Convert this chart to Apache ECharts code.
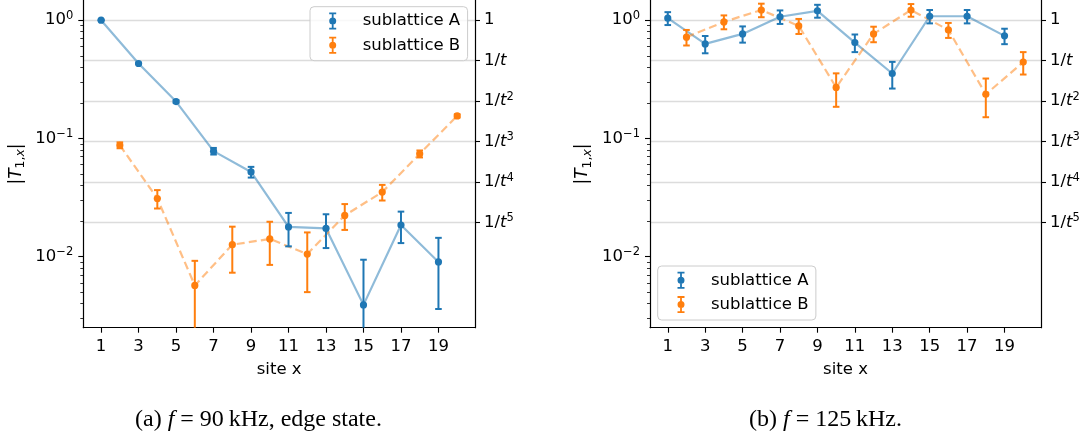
<!DOCTYPE html>
<html>
<head>
<meta charset="utf-8">
<script src="https://cdn.jsdelivr.net/npm/echarts@6/dist/echarts.min.js"></script>
<style>
  html, body { margin: 0; padding: 0; background: #ffffff; }
  #chart { width: 1090px; height: 439px; }
</style>
</head>
<body>
<div id="chart"></div>
<script>
// Lattice sites of the two sublattices
const sitesA = [1, 3, 5, 7, 9, 11, 13, 15, 17, 19];
const sitesB = [2, 4, 6, 8, 10, 12, 14, 16, 18, 20];

// (a) f = 90 kHz, edge state: |T_{1,x}| and its uncertainty
const edgeA    = [1.0, 0.43, 0.205, 0.078, 0.052, 0.0178, 0.0173, 0.0039, 0.0185, 0.009];
const edgeAErr = [0.0055, 0.0055, 0.0055, 0.005, 0.0054, 0.0056, 0.0055, 0.0055, 0.0055, 0.0054];
const edgeB    = [0.0875, 0.031, 0.0057, 0.0126, 0.0141, 0.0105, 0.0223, 0.0351, 0.074, 0.155];
const edgeBErr = [0.005, 0.0055, 0.0035, 0.0053, 0.0056, 0.0055, 0.0055, 0.0053, 0.005, 0.005];

// (b) f = 125 kHz
const bulkA    = [1.04, 0.63, 0.766, 1.07, 1.2, 0.647, 0.354, 1.08, 1.08, 0.737];
const bulkAErr = [0.13, 0.105, 0.12, 0.14, 0.15, 0.11, 0.09, 0.14, 0.14, 0.11];
const bulkB    = [0.719, 0.968, 1.22, 0.895, 0.27, 0.766, 1.22, 0.828, 0.236, 0.442];
const bulkBErr = [0.108, 0.13, 0.16, 0.13, 0.085, 0.115, 0.15, 0.12, 0.085, 0.095];

// Tick positions
const xTicks = [1, 3, 5, 7, 9, 11, 13, 15, 17, 19];
const decadeExponents = [0, -1, -2];
const hoppingPowers = [0, 1, 2, 3, 4, 5];
const T_HOP = 2.2;            // hopping ratio t used on the right-hand scale

const captions = [
  { tag: '(a) ', freq: ' = 90\u2009kHz, edge state.' },
  { tag: '(b) ', freq: ' = 125\u2009kHz.' }
];

const Y_MIN = 0.0025, Y_MAX = 1.5;
const X_MIN = 0.05, X_MAX = 20.95;
const LOG_MIN = Math.log10(Y_MIN), LOG_MAX = Math.log10(Y_MAX);

const BLUE = '#1f77b4', ORANGE = '#ff7f0e';
const FONT = 'DejaVu Sans';
const FS = 16.5;

const decadeTickVals = decadeExponents.slice();
const minorTickVals = [];
for (let k = -3; k <= 0; k++) {
  for (let m = 2; m <= 9; m++) {
    const v = Math.log10(m) + k;
    if (v >= LOG_MIN && v <= LOG_MAX) minorTickVals.push(v);
  }
}
const hopTickVals = hoppingPowers.map(p => -p * Math.log10(T_HOP));

const labelRich = {
  n: { fontFamily: FONT, fontSize: FS, color: '#000', lineHeight: 21 },
  i: { fontFamily: FONT, fontSize: FS, color: '#000', lineHeight: 21, fontStyle: 'italic' },
  s: { fontFamily: FONT, fontSize: 11.5, color: '#000', lineHeight: 11.5, verticalAlign: 'top' }
};

const grids = [
  { left: 83.3, top: -0.6, width: 391.7, height: 328.3 },
  { left: 650, top: -0.6, width: 391, height: 328.3 }
];

const xAxes = [], yAxes = [];
grids.forEach((g, gi) => {
  xAxes.push({
    type: 'value', gridIndex: gi, min: X_MIN, max: X_MAX,
    axisLine: { show: true, onZero: false, lineStyle: { color: '#000', width: 1.2 } },
    axisTick: { show: true, length: 5, customValues: xTicks, lineStyle: { color: '#000', width: 1.1 } },
    axisLabel: { customValues: xTicks, margin: 11, color: '#000', fontFamily: FONT, fontSize: FS },
    splitLine: { show: false },
    name: 'site x', nameLocation: 'middle', nameGap: 34,
    nameTextStyle: { color: '#000', fontFamily: FONT, fontSize: FS }
  });
  // data scale (logarithmic)
  yAxes.push({
    type: 'log', logBase: 10, gridIndex: gi, min: Y_MIN, max: Y_MAX, show: false,
    axisLine: { onZero: false }
  });
  // decade ticks and labels
  yAxes.push({
    type: 'value', gridIndex: gi, position: 'left', min: LOG_MIN, max: LOG_MAX,
    axisLine: { show: true, onZero: false, lineStyle: { color: '#000', width: 1.2 } },
    axisTick: { show: true, length: 5, customValues: decadeTickVals, lineStyle: { color: '#000', width: 1.1 } },
    axisLabel: {
      customValues: decadeTickVals, margin: 10,
      formatter: v => {
        const k = Math.round(v);
        return '{n|10}{s|' + (k < 0 ? '\u2212' + (-k) : String(k)) + '}';
      },
      rich: labelRich
    },
    splitLine: { show: false }
  });
  // minor ticks
  yAxes.push({
    type: 'value', gridIndex: gi, position: 'left', min: LOG_MIN, max: LOG_MAX,
    axisLine: { show: false, onZero: false },
    axisTick: { show: true, length: 3, customValues: minorTickVals, lineStyle: { color: '#000', width: 0.8 } },
    axisLabel: { show: false },
    splitLine: { show: false }
  });
  // powers of 1/t on the right, with the grid lines
  yAxes.push({
    type: 'value', gridIndex: gi, position: 'right', min: LOG_MIN, max: LOG_MAX,
    axisLine: { show: true, onZero: false, lineStyle: { color: '#000', width: 1.2 } },
    axisTick: { show: true, length: 5, customValues: hopTickVals, lineStyle: { color: '#000', width: 1.1 } },
    axisLabel: {
      customValues: hopTickVals, margin: 9,
      formatter: v => {
        const k = Math.round(-v / Math.log10(T_HOP));
        if (k === 0) return '{n|1}';
        if (k === 1) return '{n|1/}{i|t}';
        return '{n|1/}{i|t}{s|' + k + '}';
      },
      rich: labelRich
    },
    splitLine: { show: true, lineStyle: { color: '#dcdcdc', width: 1.3 } }
  });
});

function errorBarRenderer(color) {
  return function (params, api) {
    const x = api.value(0), y = api.value(1), e = api.value(2);
    const hiVal = y + e, loVal = y - e;
    const top = api.coord([x, Math.min(hiVal, Y_MAX)]);
    const bot = api.coord([x, Math.max(loVal, Y_MIN)]);
    const mid = api.coord([x, y]);
    const cap = 3.3, lw = 2;
    const children = [
      { type: 'line', shape: { x1: top[0], y1: top[1], x2: bot[0], y2: bot[1] },
        style: { stroke: color, lineWidth: lw } }
    ];
    if (hiVal <= Y_MAX) children.push({ type: 'line',
      shape: { x1: top[0] - cap, y1: top[1], x2: top[0] + cap, y2: top[1] },
      style: { stroke: color, lineWidth: lw } });
    if (loVal >= Y_MIN) children.push({ type: 'line',
      shape: { x1: bot[0] - cap, y1: bot[1], x2: bot[0] + cap, y2: bot[1] },
      style: { stroke: color, lineWidth: lw } });
    children.push({ type: 'circle', shape: { cx: mid[0], cy: mid[1], r: 3.6 }, style: { fill: color } });
    return { type: 'group', children };
  };
}

const panels = [
  { a: edgeA, aErr: edgeAErr, b: edgeB, bErr: edgeBErr },
  { a: bulkA, aErr: bulkAErr, b: bulkB, bErr: bulkBErr }
];

const series = [];
panels.forEach((p, gi) => {
  const yIdx = gi * 4;
  const sets = [
    { name: 'sublattice A', sites: sitesA, vals: p.a, errs: p.aErr, color: BLUE, dash: 'solid' },
    { name: 'sublattice B', sites: sitesB, vals: p.b, errs: p.bErr, color: ORANGE, dash: [8, 4.2] }
  ];
  sets.forEach(s => {
    series.push({
      type: 'custom', name: s.name, xAxisIndex: gi, yAxisIndex: yIdx,
      itemStyle: { color: s.color },
      data: s.sites.map((x, i) => [x, s.vals[i], s.errs[i]]),
      encode: { x: 0, y: 1 },
      renderItem: errorBarRenderer(s.color),
      z: 3, silent: true
    });
  });
  sets.forEach(s => {
    series.push({
      type: 'line', name: s.name, xAxisIndex: gi, yAxisIndex: yIdx,
      data: s.sites.map((x, i) => [x, s.vals[i]]),
      symbol: 'none', showSymbol: false,
      lineStyle: { color: s.color, opacity: 0.5, width: 2.2, type: s.dash },
      itemStyle: { color: s.color },
      z: 2, silent: true
    });
  });
});

// error-bar legend handle: caps, stem and dot
const ERR_ICON = 'path://M0,0L7,0L7,1.8L0,1.8Z M2.6,0L4.4,0L4.4,17L2.6,17Z M0,15.2L7,15.2L7,17L0,17Z M7,8.5A3.5,3.5,0,1,1,0,8.5A3.5,3.5,0,1,1,7,8.5Z';

function makeLegend(left, top, padLeft) {
  return {
    orient: 'vertical', left: left, top: top,
    data: [
      { name: 'sublattice A', icon: ERR_ICON, itemStyle: { color: BLUE } },
      { name: 'sublattice B', icon: ERR_ICON, itemStyle: { color: ORANGE } }
    ],
    itemWidth: 28.5, itemHeight: 17, itemGap: 7.3,
    padding: [5.8, 7.4, 6.9, padLeft],
    backgroundColor: 'rgba(255,255,255,0.8)',
    borderColor: '#cccccc', borderWidth: 1, borderRadius: 4,
    selectedMode: false,
    formatter: name => '{gap|}{t|' + name + '}',
    textStyle: {
      fontFamily: FONT, fontSize: FS, color: '#000',
      rich: {
        gap: { width: 10.7 },
        t: { fontFamily: FONT, fontSize: FS, color: '#000' }
      }
    }
  };
}

const yNameRich = {
  v: { fontFamily: FONT, fontSize: 17, color: '#000', lineHeight: 22 },
  T: { fontFamily: FONT, fontSize: 17, color: '#000', lineHeight: 22, fontStyle: 'italic' },
  d: { fontFamily: FONT, fontSize: 12.5, color: '#000', lineHeight: 12.5, verticalAlign: 'bottom' },
  dx: { fontFamily: FONT, fontSize: 12.5, color: '#000', lineHeight: 12.5, verticalAlign: 'bottom', fontStyle: 'italic' }
};
const yNameText = '{v||}{T|T}{d|1,}{dx|x}{v||}';

const captionRich = {
  r: { fontFamily: 'Liberation Serif', fontSize: 24, color: '#000' },
  f: { fontFamily: 'Liberation Serif', fontSize: 24, color: '#000', fontStyle: 'italic' }
};

const graphics = [
  { type: 'text', x: 16.5, y: 164, rotation: Math.PI / 2,
    style: { text: yNameText, rich: yNameRich, align: 'center', verticalAlign: 'middle' } },
  { type: 'text', x: 583, y: 164, rotation: Math.PI / 2,
    style: { text: yNameText, rich: yNameRich, align: 'center', verticalAlign: 'middle' } },
  { type: 'text', x: 135, y: 420,
    style: { text: '{r|' + captions[0].tag + '}{f|f}{r|' + captions[0].freq + '}', rich: captionRich,
             align: 'left', verticalAlign: 'middle' } },
  { type: 'text', x: 749, y: 420,
    style: { text: '{r|' + captions[1].tag + '}{f|f}{r|' + captions[1].freq + '}', rich: captionRich,
             align: 'left', verticalAlign: 'middle' } }
];

const chart = echarts.init(document.getElementById('chart'), null, { renderer: 'canvas' });
chart.setOption({
  animation: false,
  backgroundColor: '#ffffff',
  textStyle: { fontFamily: FONT },
  grid: grids.map(g => Object.assign({ containLabel: false, outerBoundsMode: 'none' }, g)),
  xAxis: xAxes,
  yAxis: yAxes,
  legend: [makeLegend(310, 6.7, 19.2), makeLegend(657.7, 266, 19.8)],
  series: series,
  graphic: graphics
});
</script>
</body>
</html>
